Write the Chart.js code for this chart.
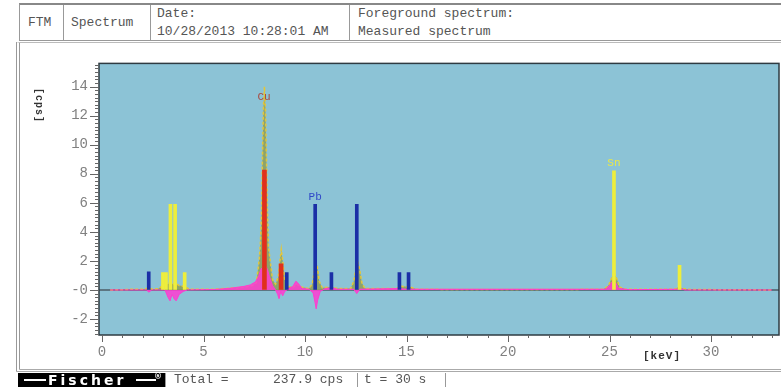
<!DOCTYPE html>
<html>
<head>
<meta charset="utf-8">
<script src="https://cdn.jsdelivr.net/npm/chart.js@4.4.1/dist/chart.umd.min.js"></script>
<style>
  html, body { margin:0; padding:0; background:#fff; }
  body { width:781px; height:387px; overflow:hidden; position:relative; font-family:"Courier New","Liberation Mono","Nimbus Mono PS",Courier,monospace; color:#555; }
  .abs { position:absolute; }
  #hdr { left:19px; top:3px; width:762px; height:38px; border-top:2px solid #888; border-bottom:1px solid #999; border-left:1px solid #999; box-sizing:border-box; }
  .cell { position:absolute; top:0; height:100%; border-right:1px solid #999; box-sizing:border-box; font-size:13px; line-height:16px; }
  #panel { left:16px; top:42px; width:765px; height:330px; border-left:4px double #999; border-top:1px solid #bbb; border-bottom:3px double #aaa; box-sizing:border-box; }
  #cv { position:absolute; left:18px; top:44px; }
  #ylab { left:44px; top:88px; font-size:10px; font-weight:bold; color:#333; transform:rotate(90deg); transform-origin:left top; white-space:nowrap; letter-spacing:1px; }
  #xlab { left:643px; top:350px; font-size:11px; font-weight:bold; color:#333; letter-spacing:1px; }
  #logo { left:18px; top:373px; width:147px; height:14px; background:#000; color:#fff; font-family:"DejaVu Sans",sans-serif; font-weight:bold; font-size:14px; line-height:14px; }
  .fcell { position:absolute; top:373px; height:14px; border-right:1px solid #999; box-sizing:border-box; font-size:13px; line-height:14px; }
</style>
</head>
<body>
<div id="hdr" class="abs">
  <div class="cell" style="left:0;width:44px;"><span class="abs" style="left:8px;top:10px;">FTM</span></div>
  <div class="cell" style="left:44px;width:87px;"><span class="abs" style="left:7px;top:10px;">Spectrum</span></div>
  <div class="cell" style="left:131px;width:199px;"><span class="abs" style="left:6px;top:1px;">Date:</span><span class="abs" style="left:6px;top:19px;white-space:nowrap;">10/28/2013 10:28:01 AM</span></div>
  <div class="cell" style="left:330px;width:431px;border-right:none;"><span class="abs" style="left:8px;top:1px;white-space:nowrap;">Foreground spectrum:</span><span class="abs" style="left:8px;top:19px;white-space:nowrap;">Measured spectrum</span></div>
</div>
<div id="panel" class="abs"></div>
<canvas id="cv" width="763" height="327"></canvas>
<div id="ylab" class="abs">[cps]</div>
<div id="xlab" class="abs">[keV]</div>
<div id="logo" class="abs"><span class="abs" style="left:6px;top:6px;width:22px;height:2px;background:#fff;"></span><span class="abs" style="left:30px;top:0;letter-spacing:3px;">Fischer</span><span class="abs" style="left:118px;top:6px;width:20px;height:2px;background:#fff;"></span><span class="abs" style="left:136px;top:-3px;font-size:8px;">®</span></div>
<div class="fcell" style="left:165px;width:193px;border-left:1px solid #999;"><span class="abs" style="left:8px;top:0;white-space:nowrap;">Total =</span><span class="abs" style="left:107px;top:0;white-space:nowrap;">237.9 cps</span></div>
<div class="fcell" style="left:358px;width:88px;"><span class="abs" style="left:6px;top:0;white-space:nowrap;">t = 30 s</span></div>

<script>
// ---- Data ----
// Measured spectrum (keV, cps)
const specX = [0.4,1.0,1.5,2.0,2.3,2.5,2.8,3.0,3.15,3.35,3.5,3.6,3.8,4.05,4.3,5.0,5.5,6.0,6.5,7.0,7.4,7.6,7.7,7.75,7.8,7.85,7.9,7.95,8.0,8.05,8.1,8.15,8.2,8.3,8.4,8.55,8.68,8.78,8.83,8.9,9.0,9.15,9.4,9.6,9.8,10.2,10.35,10.45,10.52,10.6,10.7,10.85,11.3,11.6,12.25,12.4,12.5,12.58,12.68,12.8,12.95,14.5,14.75,15.2,15.5,18,22,24.7,24.95,25.1,25.22,25.35,25.5,25.8,28.2,28.4,28.6,29,31,33];
const specY = [0,0.02,0.05,0.05,0.12,0.05,0.1,0.3,0.35,0.5,0.4,0.5,0.3,0.25,0.05,0.05,0.05,0.1,0.15,0.2,0.3,0.5,1.6,2.2,3.2,5.0,9.0,12.5,14.0,12.5,9.0,5.5,3.0,1.8,0.7,0.4,0.9,2.2,2.8,2.0,0.7,0.25,0.2,0.4,0.2,0.1,0.4,1.2,1.9,1.7,0.6,0.15,0.2,0.1,0.1,0.6,1.4,2.0,1.5,0.5,0.1,0.1,0.25,0.2,0.05,0.03,0.03,0.05,0.3,0.8,1.25,0.8,0.2,0.05,0.05,0.2,0.1,0.03,0.02,0];
// Residual (fit difference) curve
const resX = [0.4,2.2,2.3,2.45,3.1,3.25,3.35,3.45,3.55,3.65,3.8,4.0,4.2,5.5,6.0,6.5,7.0,7.3,7.55,7.7,7.85,7.95,8.05,8.15,8.25,8.4,8.55,8.65,8.72,8.8,8.9,9.0,9.15,9.4,9.55,9.7,9.85,10.2,10.4,10.5,10.55,10.62,10.75,11.0,11.3,11.6,12.4,12.55,12.7,14.6,15.0,16,20,24.8,25.0,25.15,25.3,25.45,26,28.3,28.5,28.7,33];
const resY = [0,0,-0.15,0,0,-0.5,-0.75,-0.3,-0.6,-0.75,-0.3,-0.1,0,0.03,0.08,0.15,0.25,0.35,0.55,0.9,1.5,1.2,1.7,1.4,0.9,0.3,0,-0.3,-0.6,-0.1,-0.4,-0.1,0.05,0.25,0.6,0.4,0.1,0.05,-0.2,-0.9,-1.3,-0.7,-0.1,0.1,0.15,0.05,0.05,-0.25,0.05,0.1,0.05,0.05,0.05,0.05,0.3,0.6,0.5,0.1,0.02,0.05,0.1,0,0];
// Element line markers
const pbLineX = [2.3,9.1,10.5,11.3,12.55,14.65,15.1];
const pbLineY = [1.25,1.2,5.9,1.2,5.9,1.2,1.2];
const snLineX = [3.0,3.15,3.37,3.6,4.07,25.22,28.45];
const snLineY = [1.2,1.2,5.9,5.9,1.2,8.2,1.7];
const cuLineX = [8.0,8.82];
const cuLineY = [8.25,1.8];
// Peak labels
const peakLabels = ['Cu','Pb','Sn'];
const peakLabelX = [7.98,10.5,25.22];
const peakLabelY = [13.3,6.4,8.75];
const peakLabelColors = ['#a84a40','#2f48c8','#e8e84a'];
// Axis ticks
const xTickLabels = [0,5,10,15,20,25,30];
const yTickLabels = [-2,0,2,4,6,8,10,12,14];

const FONT = '"Courier New", "Liberation Mono", "Nimbus Mono PS", Courier, monospace';
const toXY = (xs, ys) => xs.map((x, i) => ({x: x, y: ys[i]}));

const bgPlugin = {
  id: 'bg',
  beforeDatasetsDraw(chart) {
    const {ctx, chartArea: a} = chart;
    ctx.save();
    ctx.fillStyle = '#8cc3d6';
    ctx.fillRect(a.left, a.top, a.right - a.left, a.bottom - a.top);
    const y0 = chart.scales.y.getPixelForValue(0);
    ctx.strokeStyle = '#4c5c66';
    ctx.lineWidth = 1.5;
    ctx.beginPath(); ctx.moveTo(a.left, y0); ctx.lineTo(a.right, y0); ctx.stroke();
    ctx.restore();
  },
  afterDraw(chart) {
    const {ctx, chartArea: a, scales} = chart;
    ctx.save();
    ctx.strokeStyle = '#2e3b42';
    ctx.lineWidth = 1.5;
    ctx.strokeRect(a.left, a.top, a.right - a.left, a.bottom - a.top);
    ctx.strokeStyle = '#666';
    ctx.lineWidth = 1;
    const ys = scales.y;
    for (let v = Math.ceil(ys.min * 4) / 4; v <= ys.max; v += 0.25) {
      const p = Math.round(ys.getPixelForValue(v)) + 0.5;
      const major = Math.abs(v / 2 - Math.round(v / 2)) < 1e-6;
      const len = major ? 9 : 4;
      ctx.beginPath(); ctx.moveTo(a.left - len, p); ctx.lineTo(a.left, p); ctx.stroke();
    }
    const xs = scales.x;
    for (let v = 0; v <= xs.max; v += 1) {
      const p = Math.round(xs.getPixelForValue(v)) + 0.5;
      const major = v % 5 === 0;
      const len = major ? 7 : 3;
      ctx.beginPath(); ctx.moveTo(p, a.bottom); ctx.lineTo(p, a.bottom + len); ctx.stroke();
    }
    ctx.font = '11px ' + FONT;
    ctx.textAlign = 'center';
    ctx.textBaseline = 'middle';
    peakLabels.forEach((t, i) => {
      ctx.fillStyle = peakLabelColors[i];
      ctx.fillText(t, xs.getPixelForValue(peakLabelX[i]), ys.getPixelForValue(peakLabelY[i]));
    });
    ctx.restore();
  }
};

new Chart(document.getElementById('cv'), {
  type: 'bar',
  data: {
    datasets: [
      { type: 'bar', data: toXY(pbLineX, pbLineY), backgroundColor: '#1b2fa6', barThickness: 3, grouped: false, order: 1 },
      { type: 'bar', data: toXY(snLineX, snLineY), backgroundColor: '#eeee3c', barThickness: 3, grouped: false, order: 1 },
      { type: 'bar', data: toXY(cuLineX, cuLineY), backgroundColor: '#e0301c', barThickness: 4, grouped: false, order: 2 },
      { type: 'line', data: toXY(resX, resY), borderColor: '#ff3ccf', backgroundColor: 'rgba(255,60,210,0.85)', fill: 'origin', borderWidth: 1, pointRadius: 0, tension: 0, order: 3 },
      { type: 'line', data: toXY(specX, specY), borderColor: '#e2c63c', backgroundColor: 'rgba(140,160,95,0.9)', fill: 'origin', borderWidth: 1.5, borderDash: [3, 2], pointRadius: 0, tension: 0, order: 4 }
    ]
  },
  options: {
    responsive: false,
    animation: false,
    events: [],
    layout: { padding: { left: 0, top: 16, right: 2, bottom: 0 } },
    plugins: { legend: { display: false }, tooltip: { enabled: false } },
    scales: {
      x: {
        type: 'linear', min: -0.15, max: 33.35, offset: false,
        afterFit(s) { s.height = 36; },
        afterBuildTicks(s) { s.ticks = xTickLabels.map(v => ({value: v})); },
        grid: { drawOnChartArea: false, drawTicks: false },
        border: { display: false },
        ticks: { padding: 9, color: '#808080', font: { family: FONT, size: 14 }, maxRotation: 0, autoSkip: false }
      },
      y: {
        type: 'linear', min: -3.1, max: 15.6,
        afterFit(s) { s.width = 81; },
        afterBuildTicks(s) { s.ticks = yTickLabels.map(v => ({value: v})); },
        grid: { drawOnChartArea: false, drawTicks: false },
        border: { display: false },
        ticks: { padding: 11, color: '#808080', font: { family: FONT, size: 14 }, autoSkip: false,
          callback: v => (v <= 0 ? '-' + Math.abs(v) : String(v)) }
      }
    }
  },
  plugins: [bgPlugin]
});
</script>
</body>
</html>
